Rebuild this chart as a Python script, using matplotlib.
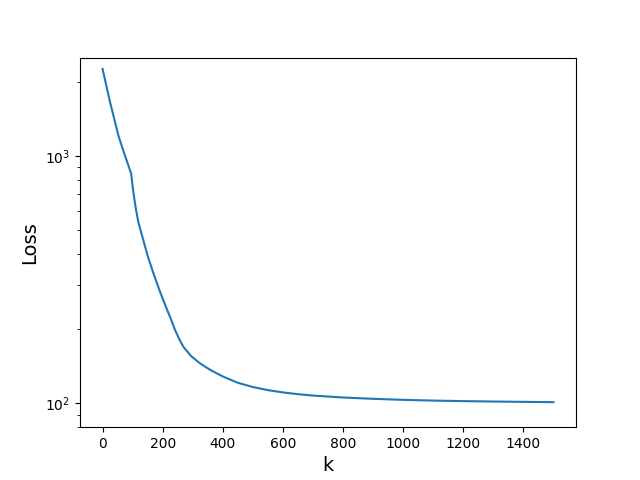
import matplotlib
matplotlib.use("Agg")
import matplotlib.pyplot as plt

k = [0, 25, 53, 75, 88, 95, 102, 110, 119, 135, 150, 169, 190, 214, 228, 241, 255, 269, 295, 324, 360, 402, 450, 500, 550, 600, 650, 700, 800, 900, 1000, 1100, 1200, 1300, 1400, 1500]
loss = [2250, 1650, 1206, 1000, 900, 850, 720, 620, 540, 460, 395, 336, 285, 240, 218, 198, 182, 169, 155, 145, 136, 128, 121, 116.3, 113, 110.6, 108.8, 107.4, 105.5, 104.2, 103.2, 102.5, 102, 101.6, 101.3, 101]

fig, ax = plt.subplots(figsize=(6.4, 4.8), dpi=100)
ax.plot(k, loss)
ax.set_yscale('log')
ax.set_ylim(80, 2500)
ax.set_xlabel('k', fontsize=14)
ax.set_ylabel('Loss', fontsize=14)
fig.savefig('out.png')
